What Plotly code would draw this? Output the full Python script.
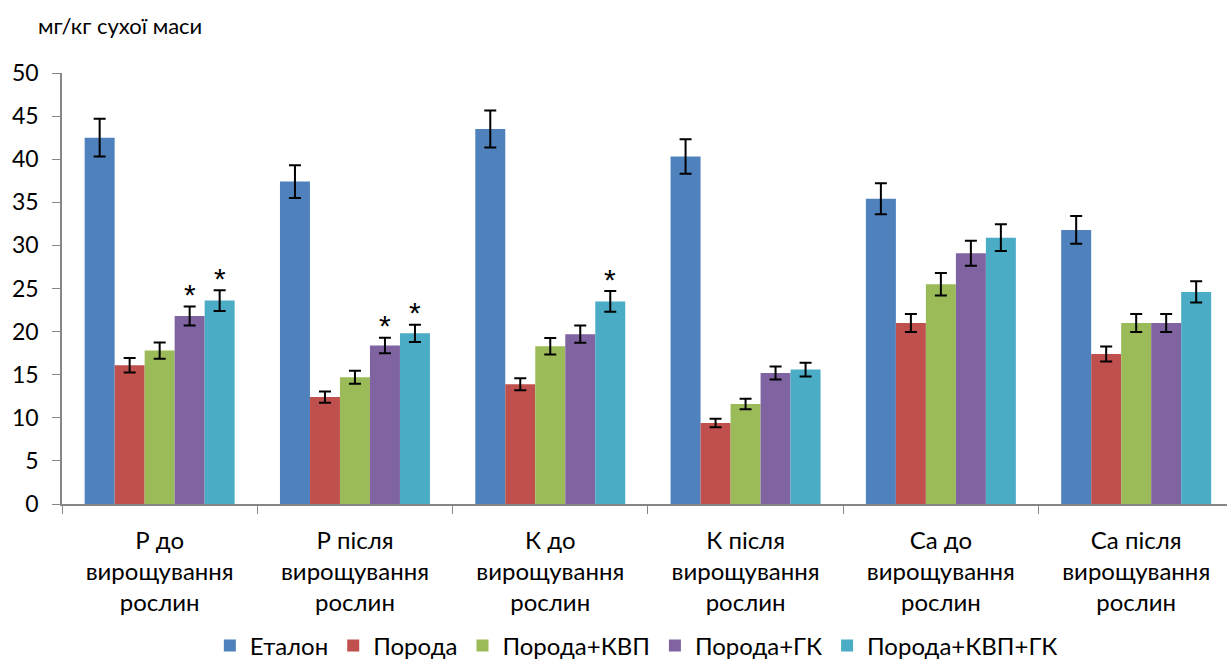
import plotly.graph_objects as go

# Categories (x axis)
categories = [
    "Р до<br>вирощування<br>рослин",
    "Р після<br>вирощування<br>рослин",
    "К до<br>вирощування<br>рослин",
    "К після<br>вирощування<br>рослин",
    "Са до<br>вирощування<br>рослин",
    "Са після<br>вирощування<br>рослин",
]

series_names = ["Еталон", "Порода", "Порода+КВП", "Порода+ГК", "Порода+КВП+ГК"]
series_colors = ["#4F81BD", "#C0504D", "#9BBB59", "#8064A2", "#4BACC6"]

# Mean values, mg/kg dry mass
etalon      = [42.5, 37.4, 43.5, 40.3, 35.4, 31.8]
poroda      = [16.1, 12.4, 13.9,  9.4, 21.0, 17.4]
poroda_kvp  = [17.8, 14.7, 18.3, 11.6, 25.5, 21.0]
poroda_gk   = [21.8, 18.4, 19.7, 15.2, 29.1, 21.0]
poroda_kvp_gk = [23.6, 19.8, 23.5, 15.6, 30.9, 24.6]

# Error bar half-widths
etalon_err      = [2.2, 1.9, 2.15, 2.0, 1.8, 1.6]
poroda_err      = [0.85, 0.65, 0.7, 0.5, 1.05, 0.87]
poroda_kvp_err  = [0.95, 0.75, 0.95, 0.6, 1.3, 1.05]
poroda_gk_err   = [1.1, 0.9, 1.0, 0.75, 1.45, 1.05]
poroda_kvp_gk_err = [1.2, 1.0, 1.2, 0.8, 1.55, 1.23]

# Significance marks (series index, category index)
significant = [(3, 0), (4, 0), (3, 1), (4, 1), (4, 2)]

values = [etalon, poroda, poroda_kvp, poroda_gk, poroda_kvp_gk]
errors = [etalon_err, poroda_err, poroda_kvp_err, poroda_gk_err, poroda_kvp_gk_err]

FONT = "Lato, 'Open Sans', sans-serif"
BARGAP = 0.232

fig = go.Figure()
for name, color, vals, errs in zip(series_names, series_colors, values, errors):
    fig.add_trace(go.Bar(
        name=name,
        x=categories,
        y=vals,
        marker=dict(color=color, line=dict(width=0)),
        error_y=dict(type="data", array=errs, visible=True,
                     color="black", thickness=2, width=6),
    ))

# Asterisks above the flagged bars
n_series = len(series_names)
bar_w = (1 - BARGAP) / n_series
for s, c in significant:
    xpos = c + (s - (n_series - 1) / 2) * bar_w
    fig.add_annotation(
        x=xpos, y=values[s][c] + errors[s][c], xref="x", yref="y",
        text="*", showarrow=False, yanchor="middle", yshift=12,
        font=dict(family="Liberation Sans, Arial, sans-serif", size=30, color="black"),
    )

# Unit label above the y axis
fig.add_annotation(
    xref="paper", yref="paper", x=-0.022, y=1.111,
    xanchor="left", yanchor="middle", showarrow=False,
    text="мг/кг сухої маси",
    font=dict(family=FONT, size=22, color="black"),
)

fig.update_layout(
    width=1227, height=666,
    margin=dict(l=62, r=0, t=73, b=162),
    paper_bgcolor="white", plot_bgcolor="white",
    barmode="group", bargap=BARGAP, bargroupgap=0,
    font=dict(family=FONT, color="black"),
    showlegend=True,
    legend=dict(
        orientation="h", xanchor="center", x=0.493,
        yref="container", yanchor="middle", y=0.03,
        font=dict(family=FONT, size=24, color="black"),
        itemclick=False,
    ),
    xaxis=dict(
        type="category", range=[-0.5, 5.465],
        showline=True, linecolor="#868686", linewidth=1.5,
        ticks="outside", tickson="boundaries", ticklen=8, tickcolor="#868686",
        ticklabelstandoff=14,
        tickfont=dict(family=FONT, size=24, color="black"),
        showgrid=False, zeroline=False, automargin=False,
    ),
    yaxis=dict(
        range=[0, 50], tickmode="linear", tick0=0, dtick=5,
        showline=True, linecolor="#868686", linewidth=1.5,
        ticks="outside", ticklen=8, tickcolor="#868686",
        ticklabelstandoff=9,
        tickfont=dict(family=FONT, size=23, color="black"),
        showgrid=False, zeroline=False, automargin=False,
    ),
)

fig.write_html("out.html")
